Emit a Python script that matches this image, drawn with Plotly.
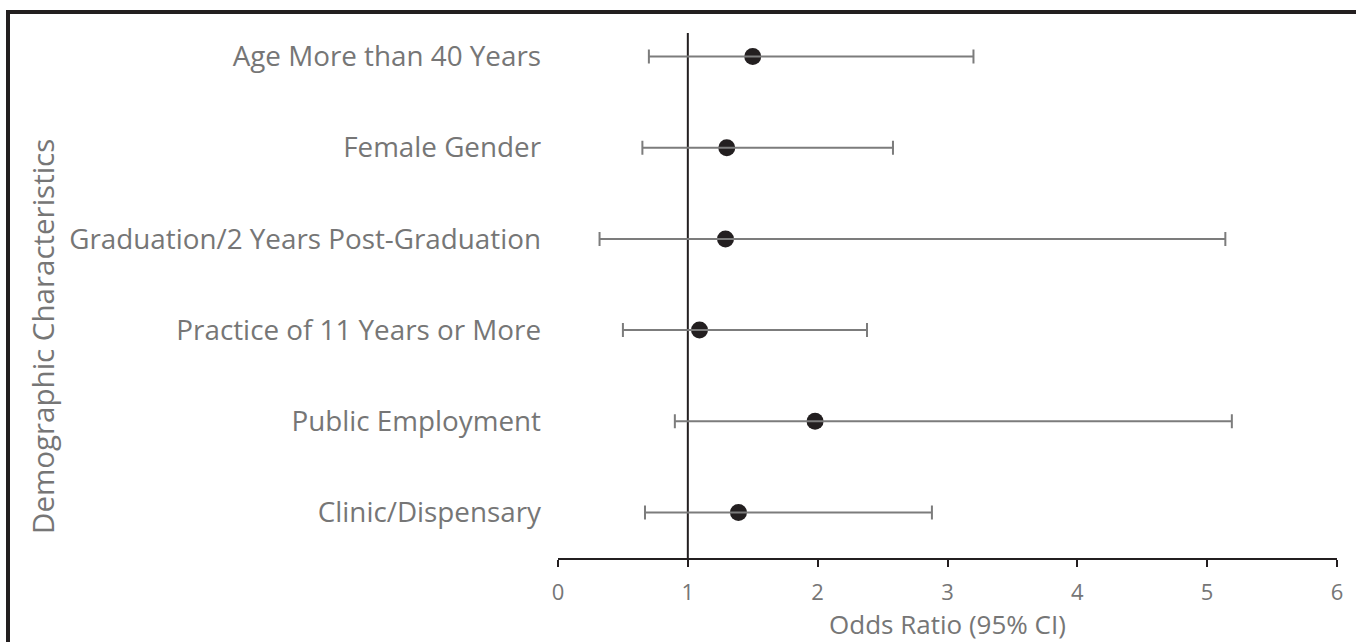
import plotly.graph_objects as go

# Odds ratios with 95% confidence intervals per demographic characteristic
characteristics = [
    "Age More than 40 Years",
    "Female Gender",
    "Graduation/2 Years Post-Graduation",
    "Practice of 11 Years or More",
    "Public Employment",
    "Clinic/Dispensary",
]
odds_ratio = [1.50, 1.30, 1.29, 1.09, 1.98, 1.39]
ci_lower = [0.70, 0.65, 0.32, 0.50, 0.90, 0.67]
ci_upper = [3.20, 2.58, 5.14, 2.38, 5.19, 2.88]
x_ticks = [0, 1, 2, 3, 4, 5, 6]
null_value = 1

FONT = "Open Sans"
TEXT_GRAY = "#767676"
BAR_GRAY = "#7c7c7c"
DARK = "#231f20"

err_plus = [u - o for u, o in zip(ci_upper, odds_ratio)]
err_minus = [o - l for o, l in zip(odds_ratio, ci_lower)]

fig = go.Figure()

# point estimates
fig.add_trace(go.Scatter(
    x=odds_ratio, y=characteristics, mode="markers",
    marker=dict(size=17, color=DARK, line=dict(width=0)),
    showlegend=False, hoverinfo="skip",
))

# confidence interval whiskers, drawn over the points
fig.add_trace(go.Scatter(
    x=odds_ratio, y=characteristics, mode="markers",
    marker=dict(size=1, opacity=0),
    error_x=dict(type="data", symmetric=False, array=err_plus, arrayminus=err_minus,
                 color=BAR_GRAY, thickness=2, width=7),
    showlegend=False, hoverinfo="skip",
))

W, H = 1356, 642
L, R, T, B = 558, 19, 11, 84
pw, ph = W - L - R, H - T - B

def px_to_paper_x(px):
    return (px - L) / pw

def px_to_paper_y(py):
    return (H - B - py) / ph

fig.update_layout(
    width=W, height=H,
    margin=dict(l=L, r=R, t=T, b=B, pad=0),
    paper_bgcolor="white", plot_bgcolor="white",
    font=dict(family=FONT, size=26, color=TEXT_GRAY),
    xaxis=dict(
        range=[0, 6], tickvals=x_ticks, showgrid=False, zeroline=False,
        showline=True, linecolor=DARK, linewidth=2,
        ticks="outside", ticklen=7, tickwidth=2, tickcolor=DARK,
        tickfont=dict(family=FONT, size=22, color=TEXT_GRAY),
        ticklabelstandoff=7,
    ),
    yaxis=dict(
        type="category", categoryorder="array", categoryarray=characteristics,
        range=[5.5, -0.5], showgrid=False, zeroline=False, showline=False,
        ticks="", tickfont=dict(family=FONT, size=27.8, color=TEXT_GRAY),
        ticklabelstandoff=16,
    ),
    shapes=[
        # reference line at odds ratio of 1
        dict(type="line", xref="x", yref="y", x0=null_value, x1=null_value,
             y0=5.5, y1=-0.26, line=dict(color=DARK, width=2), layer="below"),
        # frame
        dict(type="rect", xref="paper", yref="paper",
             x0=px_to_paper_x(8), x1=px_to_paper_x(1400),
             y0=px_to_paper_y(700), y1=px_to_paper_y(12),
             line=dict(color=DARK, width=4), fillcolor="rgba(0,0,0,0)", layer="above"),
    ],
    annotations=[
        dict(text="Odds Ratio (95% CI)", xref="paper", yref="paper",
             x=0.5, y=px_to_paper_y(624), xanchor="center", yanchor="middle",
             borderpad=0, showarrow=False, font=dict(family=FONT, size=26, color=TEXT_GRAY)),
        dict(text="Demographic Characteristics", xref="paper", yref="paper",
             x=px_to_paper_x(42), y=px_to_paper_y(337), xanchor="center", yanchor="middle",
             borderpad=0, textangle=-90, showarrow=False,
             font=dict(family=FONT, size=29.5, color=TEXT_GRAY)),
    ],
)

fig.write_html("out.html")
